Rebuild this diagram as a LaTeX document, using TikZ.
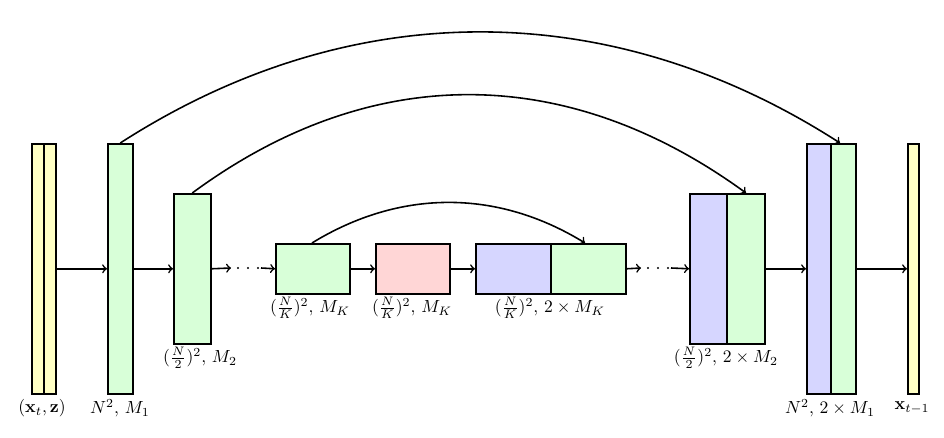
\documentclass[tikz,border=0pt]{standalone}
\usepackage{amsmath}
\begin{document}
\begin{tikzpicture}[x=0.02cm,y=-0.02cm,>=to]
		\definecolor{yel}{HTML}{FFFFC4}
		\definecolor{grn}{HTML}{D8FFD8}
		\definecolor{rd}{HTML}{FFD6D6}
		\definecolor{blu}{HTML}{D6D6FF}
		\tikzstyle{every node}+=[inner sep=0pt]
		\tikzstyle{every path}+=[line width=0.9pt]
		\tikzstyle{blk}=[draw,anchor=north west]
		\tikzstyle{lbl}=[font=\normalsize]
		\useasboundingbox (0,0) rectangle (944,438);
		% encoder
		\node [blk,fill=yel,minimum width=12*0.02cm,minimum height=250*0.02cm] (y1) at (31,143) {};
		\node [blk,fill=yel,minimum width=12*0.02cm,minimum height=250*0.02cm] (y2) at (43,143) {};
		\node [blk,fill=grn,minimum width=25*0.02cm,minimum height=250*0.02cm] (e1) at (107,143) {};
		\node [blk,fill=grn,minimum width=37*0.02cm,minimum height=150*0.02cm] (e2) at (173,193) {};
		\node [blk,fill=grn,minimum width=74*0.02cm,minimum height=50*0.02cm] (e3) at (275,243) {};
		\node [blk,fill=rd,minimum width=74*0.02cm,minimum height=50*0.02cm] (m) at (375,243) {};
		% decoder
		\node [blk,fill=blu,minimum width=75*0.02cm,minimum height=50*0.02cm] (d3b) at (475,243) {};
		\node [blk,fill=grn,minimum width=75*0.02cm,minimum height=50*0.02cm] (d3g) at (550,243) {};
		\node [blk,fill=blu,minimum width=37*0.02cm,minimum height=150*0.02cm] (d2b) at (689,193) {};
		\node [blk,fill=grn,minimum width=38*0.02cm,minimum height=150*0.02cm] (d2g) at (726,193) {};
		\node [blk,fill=blu,minimum width=24*0.02cm,minimum height=250*0.02cm] (d1b) at (806,143) {};
		\node [blk,fill=grn,minimum width=25*0.02cm,minimum height=250*0.02cm] (d1g) at (830,143) {};
		\node [blk,fill=yel,minimum width=11*0.02cm,minimum height=250*0.02cm] (out) at (907,143) {};
		% labels
		\node [lbl] (l0) at (42,408) {$(\mathbf{x}_t,\mathbf{z})$};
		\node [lbl] (l1) at (120,408) {$N^2,\,M_1$};
		\node [lbl] (l2) at (200,358) {$(\frac{N}{2})^2,\,M_2$};
		\node [lbl] (l3) at (310,308) {$(\frac{N}{K})^2,\,M_K$};
		\node [lbl] (l4) at (412,308) {$(\frac{N}{K})^2,\,M_K$};
		\node [lbl] (l5) at (550,308) {$(\frac{N}{K})^2,\,2\times M_K$};
		\node [lbl] (l6) at (726,358) {$(\frac{N}{2})^2,\,2\times M_2$};
		\node [lbl] (l7) at (830,408) {$N^2,\,2\times M_1$};
		\node [lbl] (l8) at (912,408) {$\mathbf{x}_{t-1}$};
		% dots
		\coordinate (a1) at (231,268);
		\coordinate (a2) at (261,268);
		\coordinate (b1) at (641,268);
		\coordinate (b2) at (671,268);
		\foreach \x in {238,248,258,648,658,668}
			\fill (\x,268) circle (0.7pt);
		% arrows
		\draw [->] (y2.east) -- (e1.west);
		\draw [->] (e1.east) -- (e2.west);
		\draw [->] (e2.east) -- (a1);
		\draw [->] (a2) -- (e3.west);
		\draw [->] (e3.east) -- (m.west);
		\draw [->] (m.east) -- (d3b.west);
		\draw [->] (d3g.east) -- (b1);
		\draw [->] (b2) -- (d2b.west);
		\draw [->] (d2g.east) -- (d1b.west);
		\draw [->] (d1g.east) -- (out.west);
		% skips
		\draw [->] (e1.north) .. controls (350,-5) and (610,-5) .. ([xshift=10*0.02cm]d1g.north west);
		\draw [->] (e2.north) .. controls (370,62) and (566,62) .. ([xshift=20*0.02cm]d2g.north west);
		\draw [->] ([xshift=37*0.02cm]e3.north west) .. controls (400,189) and (497,189) .. ([xshift=35*0.02cm]d3g.north west);
	\end{tikzpicture}
\end{document}
